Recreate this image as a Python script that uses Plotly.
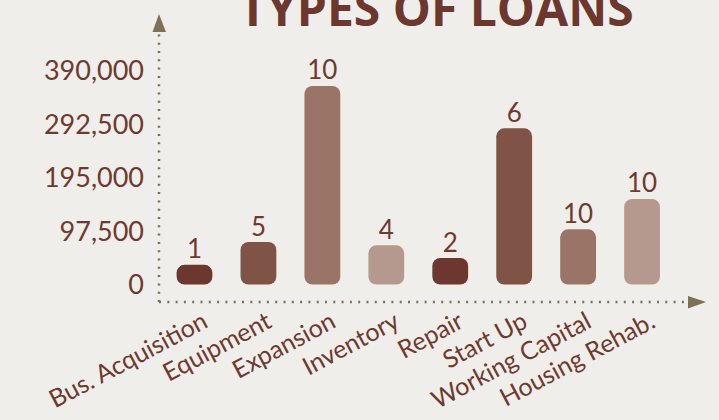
import plotly.graph_objects as go

categories = ["Bus. Acquisition", "Equipment", "Expansion", "Inventory",
              "Repair", "Start Up", "Working Capital", "Housing Rehab."]
amounts = [36000, 77600, 362600, 71600, 48400, 285300, 100800, 156200]
counts = [1, 5, 10, 4, 2, 6, 10, 10]
y_ticks = [0, 97500, 195000, 292500, 390000]
bar_colors = ["#6B372E", "#7F5346", "#9A7466", "#B5998E",
              "#6B372E", "#7F5346", "#9A7466", "#B5998E"]

TEXT = "#6E3A2F"
AXIS = "#7E7055"
BG = "#F0EEEA"
Y_RANGE = [-31970, 494100]

fig = go.Figure()
fig.add_trace(go.Bar(x=categories, y=amounts, base=[0] * len(amounts), width=0.56,
                     marker=dict(color=bar_colors, cornerradius=8, line=dict(width=0)),
                     hovertemplate="%{x}: %{y:,}<extra></extra>",
                     showlegend=False))
fig.add_trace(go.Scatter(x=categories, y=amounts, text=[str(c) for c in counts],
                         mode="text", textposition="top center",
                         textfont=dict(size=26, color=TEXT, family="Lato"),
                         hoverinfo="skip", showlegend=False))

W, H = 719, 420
L, R, T, B = 159, 13, 14, 118
pw, ph = W - L - R, H - T - B

def px_x(p):
    return (p - L) / pw

def px_y(p):
    return (H - B - p) / ph

dots = "2px,6.3px"
shapes = [
    dict(type="line", xref="paper", yref="paper", x0=0, x1=px_x(688), y0=0, y1=0,
         line=dict(color=AXIS, width=2.5, dash=dots)),
    dict(type="line", xref="paper", yref="paper", x0=0, x1=0, y0=0, y1=px_y(32),
         line=dict(color=AXIS, width=2.5, dash=dots)),
    dict(type="path", xref="paper", yref="paper",
         path=f"M {px_x(152.5)} {px_y(32)} L {px_x(166)} {px_y(32)} L 0 1 Z",
         fillcolor=AXIS, line=dict(width=0)),
    dict(type="path", xref="paper", yref="paper",
         path=f"M {px_x(688)} {px_y(296)} L {px_x(688)} {px_y(308.5)} L 1 0 Z",
         fillcolor=AXIS, line=dict(width=0)),
]

fig.update_layout(
    width=W, height=H,
    margin=dict(l=L, r=R, t=T, b=B, autoexpand=False),
    paper_bgcolor=BG, plot_bgcolor=BG,
    barmode="overlay",
    shapes=shapes,
    title=dict(text="<b>TYPES OF LOANS</b>", x=0.507, xref="paper", xanchor="center",
               y=0.979, yref="container", yanchor="middle",
               font=dict(size=48, color="#6B372E", family="Open Sans")),
    xaxis=dict(range=[-0.555, 8.0], showgrid=False, zeroline=False, showline=False,
               automargin=False,
               tickangle=-28, tickfont=dict(size=25, color=TEXT, family="Lato"),
               ticks="", ticklabelstandoff=0, ticklabelshift=9),
    yaxis=dict(range=Y_RANGE, showgrid=False, zeroline=False, showline=False,
               automargin=False,
               tickvals=y_ticks, tickformat=",", ticks="", ticklabelstandoff=14,
               tickfont=dict(size=27, color=TEXT, family="Lato")),
)

fig.write_html("out.html", config={"displayModeBar": False},
               post_script="document.body.style.margin='0';")
